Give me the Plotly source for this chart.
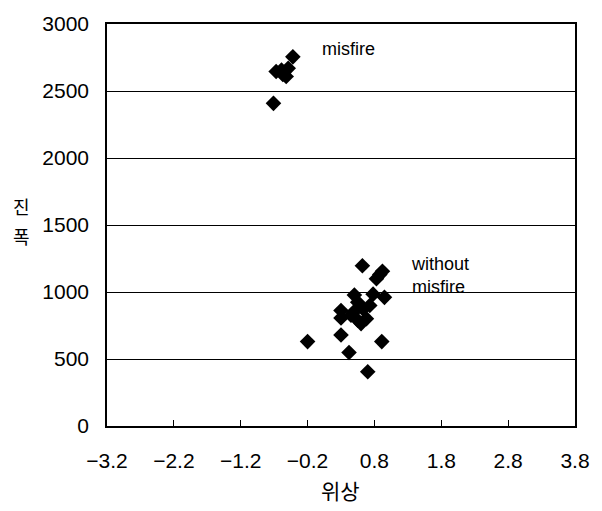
import plotly.graph_objects as go

# misfire cluster
misfire_x = [-0.42, -0.67, -0.59, -0.49, -0.52, -0.57, -0.71]
misfire_y = [2755, 2645, 2657, 2669, 2608, 2623, 2408]

# without misfire cluster
normal_x = [0.62, 0.92, 0.88, 0.83, 0.50, 0.78, 0.95, 0.55, 0.73, 0.30, 0.63,
            0.30, 0.45, 0.55, 0.68, 0.60, 0.49, 0.30, -0.20, 0.91, 0.42, 0.70]
normal_y = [1196, 1155, 1130, 1099, 977, 984, 960, 923, 899, 862, 874,
            806, 826, 789, 801, 764, 850, 679, 630, 630, 549, 405]

x_ticks = [-3.2, -2.2, -1.2, -0.2, 0.8, 1.8, 2.8, 3.8]
x_labels = ["\u22123.2", "\u22122.2", "\u22121.2", "\u22120.2", "0.8", "1.8", "2.8", "3.8"]
y_ticks = [0, 500, 1000, 1500, 2000, 2500, 3000]

LAT = "Liberation Sans, Arial, sans-serif"
KR = "Noto Sans CJK KR, sans-serif"

fig = go.Figure()
for xs, ys in [(misfire_x, misfire_y), (normal_x, normal_y)]:
    fig.add_trace(go.Scatter(x=xs, y=ys, mode="markers",
                             marker=dict(symbol="diamond", size=12, color="black"),
                             showlegend=False))

fig.update_layout(
    width=602, height=511,
    margin=dict(l=107, r=27, t=17, b=85),
    paper_bgcolor="white", plot_bgcolor="white",
    font=dict(family=LAT, size=21, color="black"),
    xaxis=dict(range=[-3.2, 3.8], tickvals=x_ticks, ticktext=x_labels,
               showgrid=False, zeroline=False, showline=True, linecolor="black", linewidth=1.5,
               mirror=True, ticks="inside", ticklen=6, tickcolor="black",
               ticklabelstandoff=15),
    yaxis=dict(range=[0, 3000], tickvals=y_ticks, showgrid=True, gridcolor="black", gridwidth=1,
               zeroline=False, showline=True, linecolor="black", linewidth=1.5, mirror=True,
               ticks="", ticklabelstandoff=12),
)

fig.add_annotation(text="misfire", x=-0.02, y=2813, xref="x", yref="y", showarrow=False,
                   xanchor="left", yanchor="middle", font=dict(family=LAT, size=18))
fig.add_annotation(text="without<br>misfire", x=1.32, y=1120, xref="x", yref="y", showarrow=False,
                   xanchor="left", yanchor="middle", align="left", font=dict(family=LAT, size=18))
fig.add_annotation(text="위상", x=0.498, y=-0.158, xref="paper", yref="paper", showarrow=False,
                   xanchor="center", yanchor="middle", font=dict(family=KR, size=21))
fig.add_annotation(text="진", x=-0.183, y=0.547, xref="paper", yref="paper", showarrow=False,
                   xanchor="center", yanchor="middle", font=dict(family=KR, size=18))
fig.add_annotation(text="폭", x=-0.183, y=0.472, xref="paper", yref="paper", showarrow=False,
                   xanchor="center", yanchor="middle", font=dict(family=KR, size=18))

fig.write_html("out.html")
